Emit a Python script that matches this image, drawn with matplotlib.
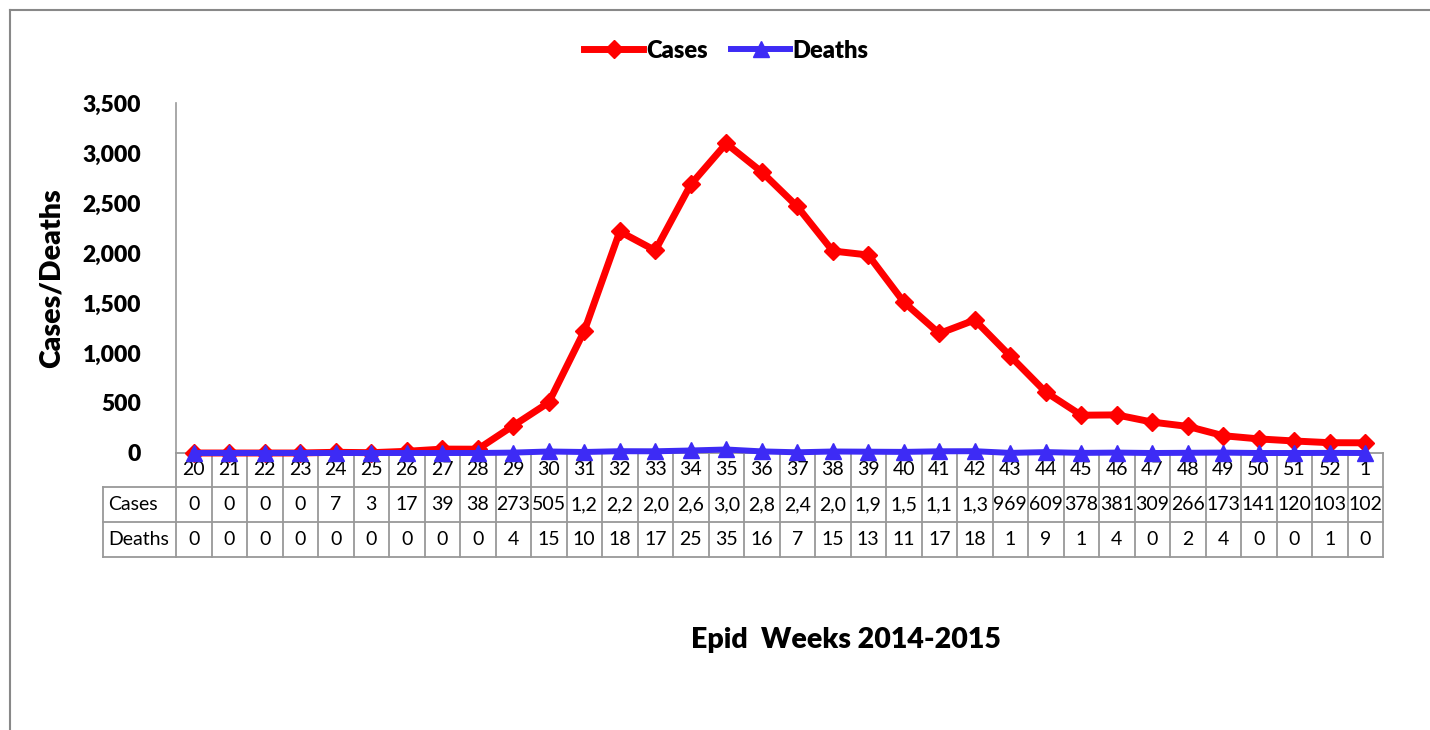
import matplotlib
matplotlib.use("Agg")
import matplotlib.pyplot as plt
from matplotlib.lines import Line2D
from matplotlib.ticker import FuncFormatter

plt.rcParams['font.family'] = ['Lato', 'DejaVu Sans']

weeks = ['20', '21', '22', '23', '24', '25', '26', '27', '28', '29', '30', '31',
         '32', '33', '34', '35', '36', '37', '38', '39', '40', '41', '42', '43',
         '44', '45', '46', '47', '48', '49', '50', '51', '52', '1']
cases = [0, 0, 0, 0, 7, 3, 17, 39, 38, 273, 505, 1220, 2215, 2025, 2685, 3095,
         2810, 2465, 2020, 1980, 1510, 1195, 1330, 969, 609, 378, 381, 309, 266,
         173, 141, 120, 103, 102]
deaths = [0, 0, 0, 0, 0, 0, 0, 0, 0, 4, 15, 10, 18, 17, 25, 35, 16, 7, 15, 13,
          11, 17, 18, 1, 9, 1, 4, 0, 2, 4, 0, 0, 1, 0]
yticks = [0, 500, 1000, 1500, 2000, 2500, 3000, 3500]

W, H = 1430, 730
fig = plt.figure(figsize=(W / 100, H / 100), dpi=100)
ax = fig.add_axes([176 / W, 1 - 453 / H, (1383 - 176) / W, 350 / H])

red = '#FF0000'
blue = '#3D2BF5'
grid_c = '#999999'
bw = 'heavy'
x = list(range(len(weeks)))

ax.plot(x, cases, color=red, lw=5, marker='D', ms=9.5, label='Cases',
        clip_on=False, zorder=3)
ax.plot(x, deaths, color=blue, lw=4.3, marker='^', ms=11, label='Deaths',
        clip_on=False, zorder=4)

ax.set_xlim(-0.5, len(weeks) - 0.5)
ax.set_ylim(0, 3500)
ax.set_yticks(yticks)
ax.yaxis.set_major_formatter(FuncFormatter(lambda v, p: f'{int(v):,}'))
ax.set_xticks([])
ax.tick_params(axis='y', length=0, pad=25, labelsize=16.5)
for t in ax.get_yticklabels():
    t.set_fontweight(bw)
for s in ['top', 'right', 'bottom']:
    ax.spines[s].set_visible(False)
ax.spines['left'].set_color(grid_c)
ax.spines['left'].set_linewidth(1.2)

ax.set_ylabel('Cases/Deaths', fontsize=20.5, fontweight=bw)
ax.yaxis.set_label_coords(-0.092, 0.5)

leg = ax.legend(loc='center', bbox_to_anchor=(0.456, 1.15), ncol=2,
                frameon=False, handlelength=2.5, columnspacing=1.0,
                handletextpad=0.1, prop={'weight': bw, 'size': 17})

# data table below the axis
ah = 350.0
aw = 1383 - 176.0
rows_y = [(453 - py) / ah for py in (453, 487, 522, 557)]
x_left = (103 - 176) / aw
tr = ax.transAxes
lkw = dict(color=grid_c, lw=1.3, transform=tr, clip_on=False)
ax.add_line(Line2D([0, 1], [rows_y[0]] * 2, **lkw))
for yy in rows_y[1:]:
    ax.add_line(Line2D([x_left, 1], [yy] * 2, **lkw))
ax.add_line(Line2D([x_left, x_left], [rows_y[1], rows_y[3]], **lkw))
n = len(weeks)
for i in range(n + 1):
    xf = i / n
    ax.add_line(Line2D([xf, xf], [rows_y[0], rows_y[3]], **lkw))

tkw = dict(transform=tr, ha='center', va='center', fontsize=14, clip_on=False)
for i in range(n):
    xc = (i + 0.5) / n
    ax.text(xc, (rows_y[0] + rows_y[1]) / 2, weeks[i], **tkw)
    ax.text(xc, (rows_y[1] + rows_y[2]) / 2, f'{cases[i]:,}'[:3], **tkw)
    ax.text(xc, (rows_y[2] + rows_y[3]) / 2, f'{deaths[i]:,}'[:3], **tkw)
ax.text(x_left + 0.004, (rows_y[1] + rows_y[2]) / 2, 'Cases',
        **{**tkw, 'ha': 'left'})
ax.text(x_left + 0.004, (rows_y[2] + rows_y[3]) / 2, 'Deaths',
        **{**tkw, 'ha': 'left'})

fig.text(846 / W, 1 - 640 / H, 'Epid  Weeks 2014-2015', ha='center',
         va='center', fontsize=20.5, fontweight=bw)

# outer chart border (left and top edges visible)
fig.add_artist(Line2D([9.5 / W, 9.5 / W], [0, 1 - 10 / H], color='#888888',
                      lw=1.5, transform=fig.transFigure))
fig.add_artist(Line2D([9.5 / W, 1], [1 - 10 / H] * 2, color='#888888',
                      lw=1.5, transform=fig.transFigure))

fig.savefig('out.png', dpi=100)
